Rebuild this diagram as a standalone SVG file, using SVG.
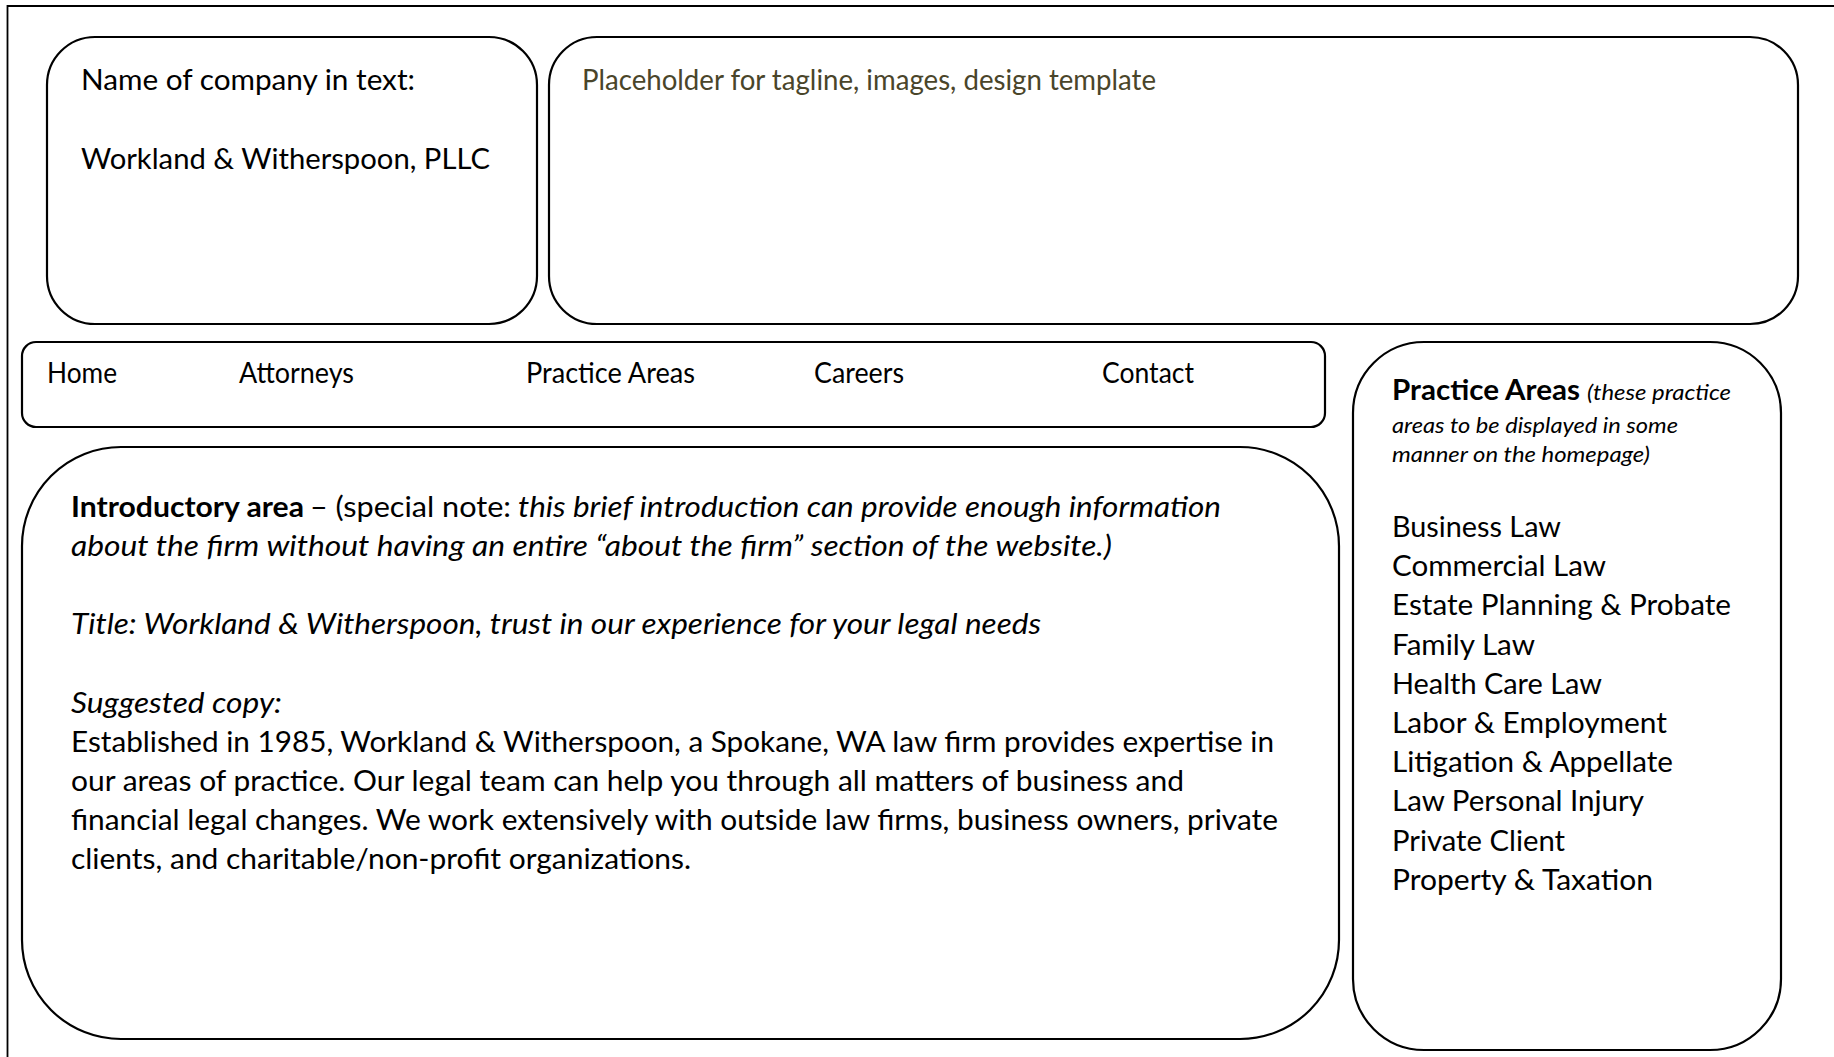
<svg xmlns="http://www.w3.org/2000/svg" width="1834" height="1057" viewBox="0 0 1834 1057">
<style>
.box{fill:#fff;stroke:#000;stroke-width:2.2}
.t{font-family:Lato,"Liberation Sans",sans-serif;font-size:28px;fill:#000}
.b{font-weight:bold}
.i{font-style:italic}
.s{font-size:21px}
.tag{fill:#4A452A}
</style>
<rect x="0" y="0" width="1834" height="1057" fill="#fff"/>
<path id="frame" d="M7.5,1057 V6 H1834" fill="none" stroke="#000" stroke-width="1.8"/>
<g id="company">
<rect class="box" x="47" y="37" width="490" height="287" rx="48"/>
<text class="t" x="81" y="90" textLength="334" lengthAdjust="spacingAndGlyphs">Name of company in text:</text>
<text class="t" x="81" y="169" textLength="409" lengthAdjust="spacingAndGlyphs">Workland &amp; Witherspoon, PLLC</text>
</g>
<g id="tagline">
<rect class="box" x="549" y="37" width="1249" height="287" rx="48"/>
<text class="t tag" x="582" y="90" textLength="574" lengthAdjust="spacingAndGlyphs">Placeholder for tagline, images, design template</text>
</g>
<g id="nav">
<rect class="box" x="22" y="342" width="1303" height="85" rx="14"/>
<text class="t" x="47" y="383" textLength="70" lengthAdjust="spacingAndGlyphs">Home</text>
<text class="t" x="239" y="383" textLength="115" lengthAdjust="spacingAndGlyphs">Attorneys</text>
<text class="t" x="526" y="383" textLength="169" lengthAdjust="spacingAndGlyphs">Practice Areas</text>
<text class="t" x="814" y="383" textLength="90" lengthAdjust="spacingAndGlyphs">Careers</text>
<text class="t" x="1102" y="383" textLength="92" lengthAdjust="spacingAndGlyphs">Contact</text>
</g>
<g id="intro">
<rect class="box" x="22" y="447" width="1317" height="592" rx="99"/>
<text class="t b" x="71" y="516.5" textLength="233" lengthAdjust="spacingAndGlyphs">Introductory area</text>
<text class="t" x="310" y="516.5" textLength="201" lengthAdjust="spacingAndGlyphs">– (special note:</text>
<text class="t i" x="518" y="516.5" textLength="703" lengthAdjust="spacingAndGlyphs">this brief introduction can provide enough information</text>
<text class="t i" x="71" y="555.7" textLength="1041" lengthAdjust="spacingAndGlyphs">about the firm without having an entire “about the firm” section of the website.)</text>
<text class="t i" x="71" y="634.1" textLength="970" lengthAdjust="spacingAndGlyphs">Title: Workland &amp; Witherspoon, trust in our experience for your legal needs</text>
<text class="t i" x="71" y="712.5" textLength="211" lengthAdjust="spacingAndGlyphs">Suggested copy:</text>
<text class="t" x="71" y="751.7" textLength="1203" lengthAdjust="spacingAndGlyphs">Established in 1985, Workland &amp; Witherspoon, a Spokane, WA law firm provides expertise in</text>
<text class="t" x="71" y="790.9" textLength="1113" lengthAdjust="spacingAndGlyphs">our areas of practice. Our legal team can help you through all matters of business and</text>
<text class="t" x="71" y="830.1" textLength="1207" lengthAdjust="spacingAndGlyphs">financial legal changes. We work extensively with outside law firms, business owners, private</text>
<text class="t" x="71" y="869.3" textLength="620" lengthAdjust="spacingAndGlyphs">clients, and charitable/non-profit organizations.</text>
</g>
<g id="practice-areas">
<rect class="box" x="1353" y="342" width="428" height="708" rx="71"/>
<text class="t b" x="1392" y="400" textLength="188" lengthAdjust="spacingAndGlyphs">Practice Areas</text>
<text class="t i s" x="1587" y="400" textLength="144" lengthAdjust="spacingAndGlyphs">(these practice</text>
<text class="t i s" x="1392" y="433" textLength="286" lengthAdjust="spacingAndGlyphs">areas to be displayed in some</text>
<text class="t i s" x="1392" y="462" textLength="258" lengthAdjust="spacingAndGlyphs">manner on the homepage)</text>
<text class="t" x="1392" y="537" textLength="169" lengthAdjust="spacingAndGlyphs">Business Law</text>
<text class="t" x="1392" y="576.2" textLength="214" lengthAdjust="spacingAndGlyphs">Commercial Law</text>
<text class="t" x="1392" y="615.4" textLength="339" lengthAdjust="spacingAndGlyphs">Estate Planning &amp; Probate</text>
<text class="t" x="1392" y="654.6" textLength="143" lengthAdjust="spacingAndGlyphs">Family Law</text>
<text class="t" x="1392" y="693.8" textLength="210" lengthAdjust="spacingAndGlyphs">Health Care Law</text>
<text class="t" x="1392" y="733" textLength="275" lengthAdjust="spacingAndGlyphs">Labor &amp; Employment</text>
<text class="t" x="1392" y="772.2" textLength="281" lengthAdjust="spacingAndGlyphs">Litigation &amp; Appellate</text>
<text class="t" x="1392" y="811.4" textLength="252" lengthAdjust="spacingAndGlyphs">Law Personal Injury</text>
<text class="t" x="1392" y="850.6" textLength="173" lengthAdjust="spacingAndGlyphs">Private Client</text>
<text class="t" x="1392" y="889.8" textLength="261" lengthAdjust="spacingAndGlyphs">Property &amp; Taxation</text>
</g>
<g id="connectors"/>
</svg>
